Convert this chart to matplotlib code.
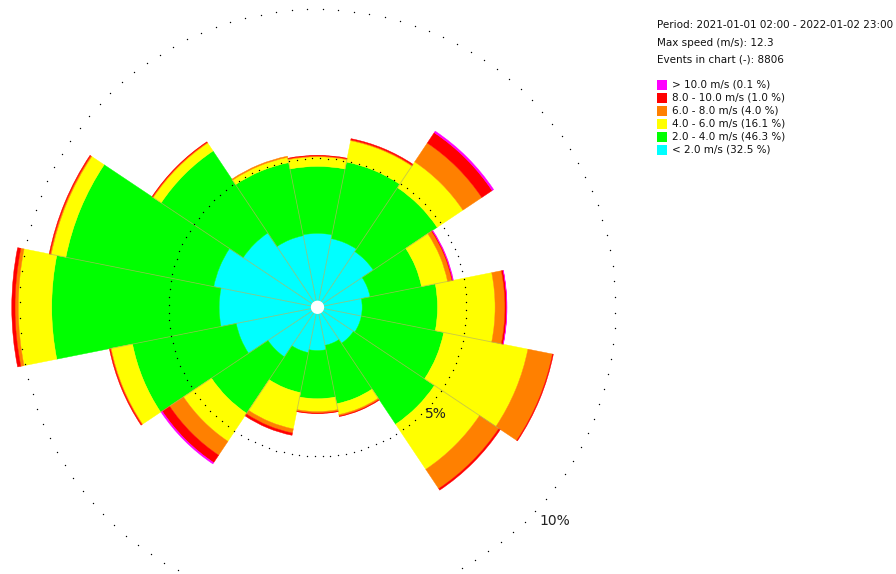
import numpy as np
import matplotlib
matplotlib.use('Agg')
import matplotlib.pyplot as plt
from matplotlib.patches import Rectangle

# ---------------- data (percent of events per direction sector) ----------------
directions = ['N', 'NNE', 'NE', 'ENE', 'E', 'ESE', 'SE', 'SSE',
              'S', 'SSW', 'SW', 'WSW', 'W', 'WNW', 'NW', 'NNW']
speed_lt2   = [2.48, 2.35, 2.25, 1.80, 1.50, 1.50, 1.45, 1.30,
               1.45, 1.55, 2.00, 2.78, 3.30, 3.55, 3.00, 2.45]
speed_2_4   = [2.25, 2.62, 2.58, 1.76, 2.53, 2.82, 3.27, 2.00,
               1.62, 1.37, 2.28, 3.55, 5.62, 5.06, 3.31, 2.50]
speed_4_6   = [0.32, 0.73, 1.04, 0.89, 1.93, 2.88, 1.82, 0.37,
               0.43, 1.24, 1.13, 0.73, 1.12, 0.50, 0.32, 0.18]
speed_6_8   = [0.03, 0.03, 0.76, 0.15, 0.33, 0.84, 0.78, 0.05,
               0.05, 0.14, 0.56, 0.03, 0.11, 0.04, 0.03, 0.04]
speed_8_10  = [0.02, 0.04, 0.42, 0.03, 0.06, 0.03, 0.06, 0.02,
               0.02, 0.08, 0.30, 0.03, 0.11, 0.03, 0.02, 0.00]
speed_gt10  = [0.00, 0.00, 0.06, 0.02, 0.01, 0.00, 0.00, 0.00,
               0.00, 0.00, 0.05, 0.00, 0.00, 0.00, 0.00, 0.00]

band_labels = ['< 2.0 m/s (32.5 %)', '2.0 - 4.0 m/s (46.3 %)', '4.0 - 6.0 m/s (16.1 %)',
               '6.0 - 8.0 m/s (4.0 %)', '8.0 - 10.0 m/s (1.0 %)', '> 10.0 m/s (0.1 %)']
band_colors = ['#00ffff', '#00ff00', '#ffff00', '#ff8000', '#ff0000', '#ff00ff']

ring_values = [5, 10]
ring_labels = ['5%', '10%']

info_lines = ['Period: 2021-01-01 02:00 - 2022-01-02 23:00',
              'Max speed (m/s): 12.3',
              'Events in chart (-): 8806']

# ---------------- figure ----------------
W, H = 896, 574
fig = plt.figure(figsize=(W / 100, H / 100), dpi=100)
cx, cy = 317.5, 307.3          # pixel centre of rose
px_per_pct = 29.8
rmax = 11.0
rad_px = rmax * px_per_pct
ax = fig.add_axes([(cx - rad_px) / W, (H - cy - rad_px) / H, 2 * rad_px / W, 2 * rad_px / H],
                  projection='polar')
ax.set_theta_zero_location('N')
ax.set_theta_direction(-1)
ax.set_ylim(0, rmax)
ax.set_axis_off()

n = len(directions)
theta = np.deg2rad(np.arange(n) * 360.0 / n)
width = 2 * np.pi / n
bands = [speed_lt2, speed_2_4, speed_4_6, speed_6_8, speed_8_10, speed_gt10]

bottom = np.zeros(n)
for vals, col in zip(bands, band_colors):
    vals = np.asarray(vals)
    lw = np.where(vals > 0, 0.3, 0.0)
    ax.bar(theta, vals, width=width, bottom=bottom, color=col,
           edgecolor=[col if v > 0 else 'none' for v in vals],
           linewidth=lw, align='center', zorder=2)
    bottom = bottom + vals
totals = bottom

# radial separators between neighbouring sectors
for i in range(n):
    a = theta[i] + width / 2
    r = min(totals[i], totals[(i + 1) % n])
    ax.plot([a, a], [0, r], color='#b0b058', lw=0.6, alpha=0.7, zorder=3,
            solid_capstyle='butt')

# white centre disc
circ = np.linspace(0, 2 * np.pi, 120)
ax.fill(circ, np.full_like(circ, 0.2), color='white', zorder=4)

# dotted rings
dot_th = np.deg2rad(np.arange(1, 361, 3))
for rv, lab in zip(ring_values, ring_labels):
    ax.scatter(dot_th, np.full_like(dot_th, rv), s=1.0, c='black', marker='o',
               linewidths=0, zorder=5)
    ax.text(np.deg2rad(132), rv * 1.07, lab, ha='center', va='center',
            fontsize=10, color='#222222', zorder=6)

# ---------------- info text and legend ----------------
x0 = 657
info_y = [25.5, 43, 59.5]
for txt, yy in zip(info_lines, info_y):
    fig.text(x0 / W, 1 - yy / H, txt, fontsize=7.45, ha='left', va='center', color='#111111')

row0, step = 84.8, 12.95
for k, (lab, col) in enumerate(zip(band_labels[::-1], band_colors[::-1])):
    yc = row0 + k * step
    fig.patches.append(Rectangle((x0 / W, 1 - (yc + 5) / H), 10 / W, 10 / H,
                                 transform=fig.transFigure, facecolor=col,
                                 edgecolor='none'))
    fig.text(672 / W, 1 - yc / H, lab, fontsize=7.45, ha='left', va='center', color='#111111')

fig.savefig('out.png', dpi=100)
